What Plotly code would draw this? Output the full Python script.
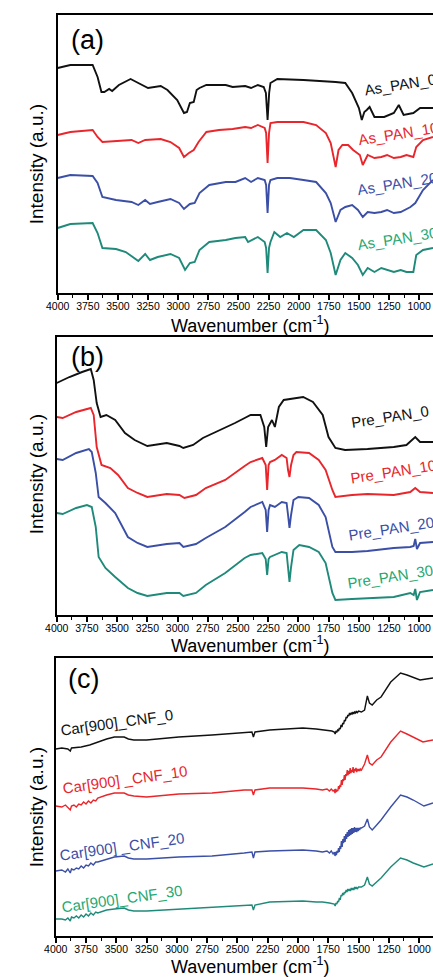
import plotly.graph_objects as go

W, H = 433, 977

# ---------------- data (wavenumber in cm-1, intensity in a.u., stacked) ----------------
# Panel (a) As-spun PAN
as0_wn = [4000,3895,3710,3669,3637,3613,3573,3548,3492,3395,3331,3250,3145,3089,3008,2952,2927,2903,2871,2847,2823,2766,2605,2548,2444,2395,2339,2290,2272,2258,2245,2234,2177,1960,1693,1613,1556,1500,1476,1455,1435,1411,1371,1290,1210,1169,1129,1048,992,885]
as0_i  = [225,228,228,216,201,201,204,202,208,214,210,205,207,203,193,180,181,190,191,203,205,208,208,206,207,205,208,206,200,173,200,210,214,213,211,210,200,185,173,181,183,186,176,176,180,188,178,180,185,185]

as10_wn = [4000,3895,3710,3669,3629,3516,3387,3331,3274,3145,3064,2992,2952,2911,2871,2831,2766,2661,2548,2444,2395,2339,2282,2270,2258,2246,2234,2177,1960,1855,1774,1734,1693,1669,1637,1589,1548,1492,1468,1427,1371,1314,1266,1210,1153,1105,1048,1024,968,885]
as10_i  = [158,161,163,156,151,152,153,150,153,154,151,145,136,140,143,151,161,163,164,166,165,168,165,160,130,160,170,171,171,168,160,150,126,143,148,148,143,138,128,138,135,136,138,135,136,138,136,146,153,156]

as20_wn = [4000,3895,3710,3669,3629,3516,3387,3331,3274,3234,3170,3064,2992,2952,2903,2863,2823,2742,2605,2524,2444,2395,2339,2282,2270,2258,2246,2234,2177,2073,1960,1855,1774,1734,1693,1653,1613,1556,1508,1468,1427,1371,1314,1266,1210,1153,1072,1032,968,885]
as20_i  = [115,118,117,110,96,93,91,88,93,89,91,94,90,84,89,90,100,108,111,111,115,111,115,113,108,80,108,113,115,115,113,111,100,90,71,83,86,88,83,76,81,80,81,83,80,81,86,90,103,113]

as30_wn = [4000,3895,3710,3669,3629,3516,3435,3331,3274,3234,3170,3064,2992,2943,2903,2863,2823,2742,2605,2524,2444,2420,2339,2282,2270,2258,2246,2234,2202,2153,2097,2040,1960,1855,1774,1734,1693,1653,1613,1556,1508,1468,1427,1371,1314,1266,1210,1153,1105,1048,1024,968,885]
as30_i  = [65,69,70,60,45,44,41,32,39,33,36,39,35,23,30,31,43,51,53,55,56,51,56,51,45,20,45,51,61,56,60,56,63,63,53,40,18,33,40,35,28,18,25,21,25,23,21,23,21,21,38,43,45]

# Panel (b) Pre-oxidised PAN
pre0_wn = [4000,3895,3790,3718,3694,3669,3637,3589,3516,3435,3355,3250,3089,2984,2952,2871,2790,2661,2524,2444,2395,2314,2282,2266,2250,2218,2194,2161,2121,1960,1879,1798,1750,1693,1613,1427,1210,1105,1032,992,885]
pre0_i  = [232,238,243,246,235,212,198,200,195,182,175,169,172,169,167,170,177,184,192,197,200,200,188,168,188,195,188,208,215,218,213,200,178,167,165,166,168,170,178,173,173]

pre10_wn = [4000,3951,3839,3718,3694,3669,3629,3556,3492,3411,3331,3250,3089,2984,2943,2847,2766,2605,2444,2395,2298,2270,2258,2246,2234,2194,2137,2097,2085,2073,2060,2040,2016,1911,1831,1774,1718,1693,1556,1427,1210,1073,1032,992,885]
pre10_i  = [198,197,203,207,200,168,150,147,140,127,122,118,121,120,117,120,127,135,149,153,157,150,125,150,153,155,160,157,145,138,150,160,163,162,155,145,125,118,120,121,120,123,127,123,122]

pre20_wn = [4000,3951,3839,3734,3710,3677,3653,3597,3516,3411,3331,3250,3089,2984,2952,2847,2766,2605,2444,2395,2298,2270,2258,2246,2234,2194,2137,2097,2085,2073,2060,2040,2000,1911,1831,1774,1718,1693,1556,1427,1210,1073,1045,1032,1018,992,885]
pre20_i  = [156,155,162,166,163,142,118,112,102,78,72,68,71,72,68,71,77,88,103,108,113,105,83,105,110,108,113,112,100,87,100,115,118,117,110,98,68,63,63,64,67,68,69,76,66,72,73]

pre30_wn = [4000,3951,3839,3750,3710,3677,3653,3597,3516,3411,3331,3250,3089,2984,2952,2847,2766,2605,2444,2395,2298,2270,2258,2246,2234,2194,2137,2097,2085,2073,2060,2040,1992,1911,1831,1774,1718,1693,1556,1427,1210,1073,1045,1032,1018,992,885]
pre30_i  = [102,101,107,110,108,88,58,47,38,27,22,19,22,22,19,22,30,42,57,60,62,56,40,56,58,60,63,62,48,33,48,65,70,68,63,52,22,15,16,17,18,22,20,26,15,23,25]

# Panel (c) Carbonised (900) CNF
car0_wn = [4000,3950,3900,3880,3870,3790,3720,3653,3580,3516,3435,3400,3355,3250,2984,2710,2444,2380,2368,2355,2234,1960,1850,1774,1720,
           1700,1693,1686,1679,1672,1665,1658,1651,1644,1637,1630,1623,1616,1609,1602,1595,1588,1581,1574,1567,1560,1553,1546,1539,1532,1525,1518,1511,1500,
           1476,1450,1427,1410,1387,1350,1314,1234,1153,1100,1040,992,940,885]
car0_i  = [187,188,187,185,188,189,191,194,197,199,199,197,196,196,199,201,204,204,199,204,206,208,207,206,205,
           204,202,205,204,206,205,208,207,211,209,213,212,216,215,219,218,221,220,223,221,223,222,224,222,224,223,225,223,225,
           224,226,240,233,231,236,239,254,263,261,258,256,257,258]

car10_wn = [4000,3950,3920,3900,3880,3870,3850,3830,3810,3790,3770,3750,3730,3710,3690,3670,3653,3580,3516,3435,3400,3355,3250,2984,2710,2444,2380,2368,2355,2234,1960,1850,1798,1760,1740,1725,1710,
            1700,1694,1688,1683,1677,1671,1665,1659,1653,1647,1641,1635,1629,1623,1617,1611,1605,1599,1593,1587,1581,1575,1569,1563,1557,1551,1545,1539,1533,1527,1521,1515,1509,1503,1497,1491,1485,
            1476,1450,1427,1410,1387,1350,1314,1234,1153,1100,1048,968,930,885]
car10_i  = [130,129,131,128,126,130,131,129,132,131,134,132,135,133,136,135,138,141,143,143,141,140,139,142,143,146,146,141,146,148,148,147,146,147,145,147,145,
            146,143,147,144,146,145,150,147,151,149,156,151,157,155,161,156,162,160,166,161,165,162,168,163,166,164,169,163,167,165,168,164,167,165,167,165,167,
            166,172,181,173,171,176,179,194,205,202,199,194,195,196]

car20_wn = [4000,3950,3920,3900,3880,3870,3850,3830,3810,3790,3770,3750,3730,3710,3690,3670,3653,3580,3516,3435,3400,3355,3250,2984,2710,2444,2380,2368,2355,2234,1960,1850,1798,1760,1740,1725,1710,
            1700,1694,1688,1683,1677,1671,1665,1659,1653,1647,1641,1635,1629,1623,1617,1611,1605,1599,1593,1587,1581,1575,1569,1563,1557,1551,1545,1539,1533,1527,1521,1515,1509,1503,1497,1491,1485,
            1476,1450,1427,1410,1387,1350,1314,1234,1153,1100,1048,960,920,885]
car20_i  = [65,66,64,67,63,67,66,68,67,70,68,71,70,73,71,74,74,77,79,80,78,77,77,79,80,83,84,78,84,85,86,85,84,85,83,85,82,
            84,80,84,81,85,83,88,84,90,87,95,89,97,93,100,94,102,97,104,99,106,100,107,101,108,102,108,103,109,104,108,104,108,105,108,106,108,
            108,110,117,109,106,111,116,129,141,139,136,130,132,133]

car30_wn = [4000,3950,3920,3900,3880,3870,3850,3830,3810,3790,3770,3750,3730,3710,3690,3670,3653,3580,3516,3435,3400,3355,3250,2984,2710,2444,2380,2368,2355,2234,1960,1850,1798,1740,
            1700,1693,1686,1679,1672,1665,1658,1651,1644,1637,1630,1623,1616,1609,1602,1595,1588,1581,1574,1567,1560,1553,1546,1539,1532,1525,1518,1511,1500,
            1476,1450,1427,1410,1387,1350,1314,1234,1153,1100,1048,960,920,885]
car30_i  = [17,17,16,18,15,19,18,20,18,21,19,22,20,23,21,24,23,26,27,28,26,25,25,27,29,31,31,26,31,34,35,34,34,33,
            32,30,33,32,35,34,38,36,41,40,43,41,44,43,46,44,47,45,47,45,48,46,48,46,49,47,49,47,49,
            49,51,59,52,50,54,58,69,78,76,73,69,71,72]

labels_a = ["As_PAN_0", "As_PAN_10", "As_PAN_20", "As_PAN_30"]
labels_b = ["Pre_PAN_0", "Pre_PAN_10", "Pre_PAN_20", "Pre_PAN_30"]
labels_c = ["Car[900]_CNF_0", "Car[900] _CNF_10", "Car[900] _CNF_20", "Car[900]_CNF_30"]
panel_tags = ["(a)", "(b)", "(c)"]
x_ticks = [4000, 3750, 3500, 3250, 3000, 2750, 2500, 2250, 2000, 1750, 1500, 1250, 1000]
x_minor = [3875, 3625, 3375, 3125, 2875, 2625, 2375, 2125, 1875, 1625, 1375, 1125, 875]

# ---------------- style ----------------
LINE_COLORS = ["#111111", "#e8262b", "#3b4fa6", "#1f8a7a"]
TEXT_COLORS = ["#111111", "#e8262b", "#3b4fa6", "#1fa872"]
FONT = "Liberation Sans, Arial, sans-serif"
TICKFONT = "Liberation Sans Narrow, Arial Narrow, Liberation Sans, sans-serif"

def px(x):
    return x / W

def py(y):
    return 1 - y / H

# panel geometry in pixels: (left, top, bottom)
panels = [(47, 15, 293), (46, 337, 615), (45, 658, 936)]

fig = go.Figure()

series = [
    [(as0_wn, as0_i), (as10_wn, as10_i), (as20_wn, as20_i), (as30_wn, as30_i)],
    [(pre0_wn, pre0_i), (pre10_wn, pre10_i), (pre20_wn, pre20_i), (pre30_wn, pre30_i)],
    [(car0_wn, car0_i), (car10_wn, car10_i), (car20_wn, car20_i), (car30_wn, car30_i)],
]
all_labels = [labels_a, labels_b, labels_c]
lw = [1.9, 1.9, 1.4]

for p, group in enumerate(series):
    xa = "x" if p == 0 else f"x{p+1}"
    ya = "y" if p == 0 else f"y{p+1}"
    for k, (wn, inten) in enumerate(group):
        fig.add_trace(go.Scatter(x=wn, y=inten, mode="lines", xaxis=xa, yaxis=ya,
                                 line=dict(color=LINE_COLORS[k], width=lw[p]),
                                 name=all_labels[p][k], showlegend=False, hoverinfo="skip"))

layout = dict(width=W, height=H, margin=dict(l=0, r=0, t=0, b=0),
              paper_bgcolor="white", plot_bgcolor="white", showlegend=False)

for p, (left, top, bottom) in enumerate(panels):
    sfx = "" if p == 0 else str(p + 1)
    layout["xaxis" + sfx] = dict(
        domain=[px(left), 1], anchor="y" + sfx, range=[4000, 885],
        showline=True, linecolor="black", linewidth=2, mirror=True,
        showgrid=False, zeroline=False,
        tickmode="array", tickvals=x_ticks, ticks="outside", ticklen=5, tickwidth=1.5,
        tickcolor="black",
        minor=dict(ticks="outside", ticklen=3, tickwidth=1.2, tickcolor="black",
                   tickmode="array", tickvals=x_minor),
        tickfont=dict(family=TICKFONT, size=10.5, color="black"),
        ticklabelstandoff=-3,
    )
    layout["yaxis" + sfx] = dict(
        domain=[py(bottom), py(top)], anchor="x" + sfx, range=[0, bottom - top],
        showline=True, linecolor="black", linewidth=2, mirror=False,
        showgrid=False, zeroline=False, showticklabels=False, ticks="",
    )

fig.update_layout(**layout)

ann = []
# panel tags
for (cx, cy), t in zip([(78, 40), (78, 357), (74, 679)], panel_tags):
    ann.append(dict(x=px(cx), y=py(cy), text=t, font=dict(family=FONT, size=27, color="black")))
# x titles
for cy in [324, 644, 965]:
    ann.append(dict(x=px(245), y=py(cy), text="Wavenumber (cm<sup>-1</sup>)",
                    font=dict(family=FONT, size=18, color="black")))
# y titles
for cy in [164, 474, 807]:
    ann.append(dict(x=px(25), y=py(cy), text="Intensity (a.u.)", textangle=-90,
                    font=dict(family=FONT, size=19, color="black")))
# curve labels
lab_pos = [
    [(399, 84), (398, 134), (396, 184), (397, 238)],
    [(389, 417), (392, 471), (390, 528), (389, 576)],
    [(107, 722), (116, 779), (113, 846), (113, 898)],
]
angles = [-9, -9, -8]
for p in range(3):
    for k in range(4):
        cx, cy = lab_pos[p][k]
        ann.append(dict(x=px(cx), y=py(cy), text=all_labels[p][k], textangle=angles[p],
                        font=dict(family=FONT, size=15, color=TEXT_COLORS[k])))
for a in ann:
    a.update(xref="paper", yref="paper", showarrow=False, xanchor="center", yanchor="middle")
fig.update_layout(annotations=ann)

fig.write_html("out.html")
